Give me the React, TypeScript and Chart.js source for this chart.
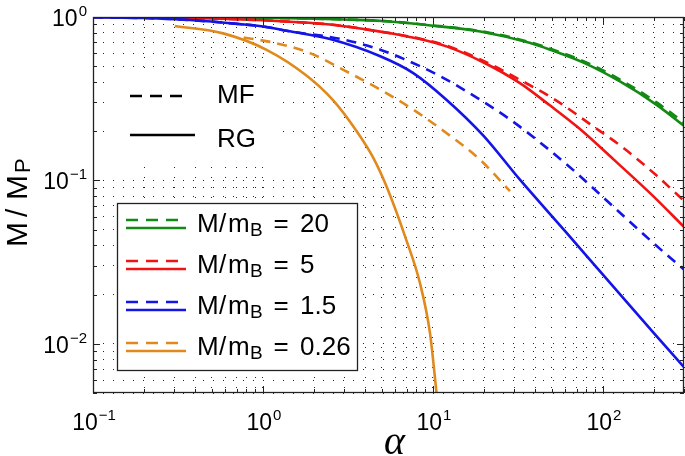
import React, { useEffect, useRef } from "react";
import { Chart, registerables } from "chart.js";

Chart.register(...registerables);

// ---- axis ranges and ticks ----
const xMin = 0.1;
const xMax = 300;
const yMin = 0.005;
const yMax = 1;
const xMajorTicks = [0.1, 1, 10, 100];
const xMajorExps = ["−1", "0", "1", "2"];
const xMinorTicks = [
  0.2, 0.3, 0.4, 0.5, 0.6, 0.7, 0.8, 0.9,
  2, 3, 4, 5, 6, 7, 8, 9,
  20, 30, 40, 50, 60, 70, 80, 90,
  200, 300,
];
const yMajorTicks = [0.01, 0.1, 1];
const yMajorExps = ["−2", "−1", "0"];
const yMinorTicks = [
  0.005, 0.006, 0.007, 0.008, 0.009,
  0.02, 0.03, 0.04, 0.05, 0.06, 0.07, 0.08, 0.09,
  0.2, 0.3, 0.4, 0.5, 0.6, 0.7, 0.8, 0.9,
];

// ---- series (alpha vs M/M_P) ----
const seriesLabels = ["20", "5", "1.5", "0.26"];

// M/m_B = 20
const rg20X = [0.1, 0.3, 1, 2, 3, 5, 10, 19, 37, 49, 78, 126, 207, 300];
const rg20Y = [1.0, 0.998, 0.99, 0.978, 0.965, 0.945, 0.885, 0.815, 0.695, 0.63, 0.522, 0.403, 0.29, 0.216];
const mf20X = [0.1, 0.3, 1, 2, 3, 5, 10, 19, 37, 49, 78, 126, 207, 300];
const mf20Y = [1.0, 0.998, 0.99, 0.978, 0.966, 0.947, 0.888, 0.82, 0.703, 0.64, 0.533, 0.414, 0.3, 0.226];

// M/m_B = 5
const rg5X = [0.1, 0.3, 0.56, 1, 1.44, 2.48, 4.9, 8, 12, 20, 32.5, 48.7, 73, 115, 197, 300];
const rg5Y = [1.0, 0.993, 0.975, 0.955, 0.936, 0.9, 0.814, 0.741, 0.661, 0.525, 0.394, 0.288, 0.207, 0.135, 0.0804, 0.0519];
const mf5X = [0.1, 0.3, 0.56, 1, 1.44, 2.48, 4.9, 8, 12, 20, 32.5, 53, 84, 132, 207, 300];
const mf5Y = [1.0, 0.993, 0.975, 0.955, 0.936, 0.9, 0.814, 0.745, 0.668, 0.537, 0.413, 0.309, 0.221, 0.158, 0.107, 0.075];

// M/m_B = 1.5
const rg15X = [0.1, 0.2, 0.37, 0.73, 1, 1.44, 2.48, 4.9, 7.66, 12, 19.8, 32.5, 61, 100, 200, 300];
const rg15Y = [0.997, 0.985, 0.958, 0.905, 0.875, 0.817, 0.733, 0.575, 0.454, 0.312, 0.188, 0.101, 0.0479, 0.0265, 0.0116, 0.0072];
const mf15X = [0.1, 0.2, 0.37, 0.73, 1, 1.44, 2.84, 4.9, 6.67, 11, 18.2, 28.4, 42.6, 66.7, 115, 200, 300];
const mf15Y = [0.997, 0.985, 0.958, 0.905, 0.875, 0.817, 0.735, 0.631, 0.556, 0.435, 0.32, 0.236, 0.171, 0.116, 0.0692, 0.041, 0.0285];

// M/m_B = 0.26
const rg026X = [0.303, 0.583, 1.05, 1.81, 2.59, 3.56, 4.45, 5.35, 7.0, 8.4, 9.6, 10.5];
const rg026Y = [0.881, 0.794, 0.63, 0.437, 0.309, 0.2, 0.138, 0.0912, 0.0427, 0.0234, 0.0117, 0.005];
const mf026X = [0.77, 1.2, 1.89, 2.97, 5.1, 7.66, 12, 18.9, 28.4];
const mf026Y = [0.75, 0.691, 0.601, 0.475, 0.351, 0.271, 0.195, 0.134, 0.086];

const seriesColors = ["#138a13", "#f01414", "#1414e6", "#e08a1e"];

const FONT = '"Liberation Sans", Arial, sans-serif';

function pts(xs: number[], ys: number[]) {
  return xs.map((x, i) => ({ x, y: ys[i] }));
}

export default function App() {
  const canvasRef = useRef<HTMLCanvasElement | null>(null);

  useEffect(() => {
    const canvas = canvasRef.current;
    if (!canvas) return;

    const rg = [pts(rg20X, rg20Y), pts(rg5X, rg5Y), pts(rg15X, rg15Y), pts(rg026X, rg026Y)];
    const mf = [pts(mf20X, mf20Y), pts(mf5X, mf5Y), pts(mf15X, mf15Y), pts(mf026X, mf026Y)];

    const datasets: any[] = [];
    for (let i = 3; i >= 0; i--) {
      datasets.push({
        label: "RG " + seriesLabels[i],
        data: rg[i],
        borderColor: seriesColors[i],
        borderWidth: 2.6,
        pointRadius: 0,
        cubicInterpolationMode: "monotone",
        fill: false,
      });
      datasets.push({
        label: "MF " + seriesLabels[i],
        data: mf[i],
        borderColor: seriesColors[i],
        borderWidth: 2.6,
        borderDash: [10, 7],
        pointRadius: 0,
        cubicInterpolationMode: "monotone",
        fill: false,
      });
    }

    const allX = [...xMajorTicks, ...xMinorTicks].sort((a, b) => a - b);
    const allY = [...yMajorTicks, ...yMinorTicks].sort((a, b) => a - b);

    const drawPow = (
      ctx: CanvasRenderingContext2D,
      exp: string,
      x: number,
      baseY: number,
      align: "center" | "right"
    ) => {
      ctx.font = `23px ${FONT}`;
      const w1 = ctx.measureText("10").width;
      ctx.font = `15px ${FONT}`;
      const w2 = ctx.measureText(exp).width;
      const total = w1 + w2 + 1;
      const start = align === "center" ? x - total / 2 : x - total;
      ctx.textAlign = "left";
      ctx.textBaseline = "alphabetic";
      ctx.font = `23px ${FONT}`;
      ctx.fillText("10", start, baseY);
      ctx.font = `15px ${FONT}`;
      ctx.fillText(exp, start + w1 + 1, baseY - 10);
    };

    const decor = {
      id: "decor",
      afterDatasetsDraw(chart: any) {
        const ctx: CanvasRenderingContext2D = chart.ctx;
        const { left, right, top, bottom } = chart.chartArea;
        const xs = chart.scales.x;
        const ys = chart.scales.y;
        ctx.save();

        // ---- MF / RG style legend (white background, no border) ----
        ctx.fillStyle = "#fff";
        ctx.fillRect(left + 12, top + 53, 175, 90);
        ctx.strokeStyle = "#000";
        ctx.lineWidth = 2.6;
        ctx.setLineDash([12, 8]);
        ctx.beginPath();
        ctx.moveTo(left + 37, top + 79);
        ctx.lineTo(left + 95, top + 79);
        ctx.stroke();
        ctx.setLineDash([]);
        ctx.beginPath();
        ctx.moveTo(left + 37, top + 118);
        ctx.lineTo(left + 102, top + 118);
        ctx.stroke();
        ctx.fillStyle = "#000";
        ctx.font = `26px ${FONT}`;
        ctx.textAlign = "left";
        ctx.textBaseline = "alphabetic";
        ctx.fillText("MF", left + 124, top + 86);
        ctx.fillText("RG", left + 124, top + 130);

        // ---- colour legend box ----
        const bx = left + 24;
        const by = top + 186;
        const bw = 240;
        const bh = 167;
        ctx.fillStyle = "#fff";
        ctx.fillRect(bx, by, bw, bh);
        ctx.strokeStyle = "#222";
        ctx.lineWidth = 1.3;
        ctx.strokeRect(bx + 0.5, by + 0.5, bw, bh);
        for (let i = 0; i < 4; i++) {
          const base = by + 29 + i * 41;
          ctx.strokeStyle = seriesColors[i];
          ctx.lineWidth = 2.6;
          ctx.setLineDash([12, 8]);
          ctx.beginPath();
          ctx.moveTo(bx + 9, base - 12);
          ctx.lineTo(bx + 61, base - 12);
          ctx.stroke();
          ctx.setLineDash([]);
          ctx.beginPath();
          ctx.moveTo(bx + 9, base - 4);
          ctx.lineTo(bx + 69, base - 4);
          ctx.stroke();
          ctx.fillStyle = "#000";
          ctx.font = `26px ${FONT}`;
          ctx.textAlign = "left";
          ctx.fillText("M", bx + 80, base);
          ctx.fillText("/", bx + 102, base);
          ctx.fillText("m", bx + 111, base);
          ctx.font = `19px ${FONT}`;
          ctx.fillText("B", bx + 133, base + 4);
          ctx.font = `26px ${FONT}`;
          ctx.textAlign = "center";
          ctx.fillText("=", bx + 164, base);
          ctx.textAlign = "left";
          ctx.fillText(seriesLabels[i], bx + 183, base);
        }

        // ---- axes box ----
        ctx.strokeStyle = "#222";
        ctx.lineWidth = 1.3;
        ctx.strokeRect(left + 0.5, top + 0.5, right - left - 1, bottom - top - 1);

        // ---- tick marks (inside, all four sides) ----
        ctx.lineWidth = 1;
        ctx.strokeStyle = "#222";
        ctx.beginPath();
        allX.forEach((v) => {
          const px = Math.round(xs.getPixelForValue(v)) + 0.5;
          if (px < left - 1 || px > right + 1) return;
          const len = xMajorTicks.includes(v) ? 7 : 4;
          ctx.moveTo(px, bottom);
          ctx.lineTo(px, bottom - len);
          ctx.moveTo(px, top);
          ctx.lineTo(px, top + len);
        });
        allY.forEach((v) => {
          const py = Math.round(ys.getPixelForValue(v)) + 0.5;
          if (py < top - 1 || py > bottom + 1) return;
          const len = yMajorTicks.includes(v) ? 7 : 4;
          ctx.moveTo(left, py);
          ctx.lineTo(left + len, py);
          ctx.moveTo(right, py);
          ctx.lineTo(right - len, py);
        });
        ctx.stroke();

        // ---- tick labels ----
        ctx.fillStyle = "#000";
        xMajorTicks.forEach((v, i) => {
          const px = xs.getPixelForValue(v);
          drawPow(ctx, xMajorExps[i], px + 1, bottom + 37, "center");
        });
        yMajorTicks.forEach((v, i) => {
          const py = ys.getPixelForValue(v);
          drawPow(ctx, yMajorExps[i], left - 6, py + 9, "right");
        });

        // ---- axis titles ----
        ctx.save();
        ctx.translate(27, (top + bottom) / 2 + 42);
        ctx.rotate(-Math.PI / 2);
        ctx.textAlign = "left";
        ctx.font = `30px ${FONT}`;
        ctx.fillText("M", 0, 0);
        ctx.fillText("/", 30, 0);
        ctx.fillText("M", 47, 0);
        ctx.font = `22px ${FONT}`;
        ctx.fillText("P", 74, 3);
        ctx.restore();

        ctx.font = `italic 40px "Liberation Serif", serif`;
        ctx.textAlign = "center";
        ctx.fillText("α", (left + right) / 2 + 6, 454);

        ctx.restore();
      },
    };

    const chart = new Chart(canvas, {
      type: "line",
      data: { datasets },
      options: {
        responsive: false,
        animation: false,
        events: [],
        layout: { padding: { top: 17, right: 1, left: 0, bottom: 0 } },
        plugins: { legend: { display: false }, tooltip: { enabled: false } },
        scales: {
          x: {
            type: "logarithmic",
            min: xMin,
            max: xMax,
            position: "bottom",
            afterBuildTicks: (s: any) => {
              s.ticks = allX.map((v) => ({ value: v }));
            },
            afterFit: (s: any) => {
              s.height = 63;
            },
            ticks: { display: false },
            grid: { color: "rgba(0,0,0,0.85)", lineWidth: 1, drawTicks: false },
            border: { display: false, dash: [1, 9] },
          },
          y: {
            type: "logarithmic",
            min: yMin,
            max: yMax,
            position: "left",
            afterBuildTicks: (s: any) => {
              s.ticks = allY.map((v) => ({ value: v }));
            },
            afterFit: (s: any) => {
              s.width = 93;
            },
            ticks: { display: false },
            grid: { color: "rgba(0,0,0,0.85)", lineWidth: 1, drawTicks: false },
            border: { display: false, dash: [1, 9] },
          },
        },
      } as any,
      plugins: [decor],
    });

    return () => chart.destroy();
  }, []);

  return (
    <div style={{ position: "absolute", left: 0, top: 0, width: 685, height: 456, background: "#fff" }}>
      <canvas ref={canvasRef} width={685} height={456} style={{ display: "block" }} />
    </div>
  );
}
